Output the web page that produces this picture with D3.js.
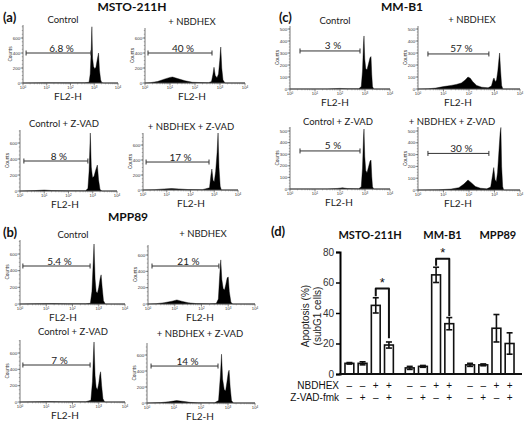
<!DOCTYPE html>
<html><head><meta charset="utf-8">
<script src="https://cdn.jsdelivr.net/npm/d3@7"></script>
<style>body{margin:0;background:#fff}svg{display:block}</style>
</head><body>
<svg id="c" width="526" height="422"></svg>
<script>
// ---------- DATA ----------
// histogram points: [log10(FL2-H), counts]
const mstoCtrl = [[0,0],[1,3],[2,2],[2.6,4],[2.78,10],[2.83,120],[2.87,420],[2.9,750],[2.93,330],[2.97,220],[3.02,190],[3.07,210],[3.12,300],[3.18,400],[3.22,170],[3.27,40],[3.32,5],[3.4,0],[4,0]];
const mstoNbd = [[0,0],[0.2,4],[0.5,20],[0.8,55],[1.0,75],[1.1,80],[1.3,60],[1.6,30],[1.9,10],[2.2,6],[2.55,5],[2.66,20],[2.72,120],[2.76,210],[2.81,100],[2.88,70],[2.94,120],[2.99,300],[3.03,480],[3.07,200],[3.12,40],[3.2,0],[4,0]];
const mstoZ = [[0,0],[0.6,5],[1.0,12],[1.3,6],[2,4],[2.7,4],[2.8,30],[2.85,250],[2.9,725],[2.94,300],[2.99,170],[3.05,180],[3.12,260],[3.19,325],[3.24,140],[3.3,20],[3.38,0],[4,0]];
const mstoNbdZ = [[0,0],[0.5,5],[0.9,15],[1.2,20],[1.5,15],[1.9,6],[2.5,5],[2.8,30],[2.86,200],[2.9,280],[2.95,130],[3.0,110],[3.06,250],[3.12,500],[3.16,760],[3.2,300],[3.25,50],[3.3,0],[4,0]];
const mppCtrl = [[0,0],[0.5,3],[1.2,6],[1.8,4],[2.5,4],[2.68,8],[2.74,150],[2.79,500],[2.82,720],[2.86,300],[2.9,150],[2.95,130],[3.0,200],[3.05,300],[3.09,350],[3.13,200],[3.18,40],[3.25,0],[4,0]];
const mppNbd = [[0,0],[0.3,4],[0.6,15],[0.9,35],[1.08,50],[1.25,35],[1.5,15],[1.8,5],[2.3,3],[2.55,5],[2.63,60],[2.68,350],[2.72,540],[2.76,300],[2.81,190],[2.86,170],[2.91,240],[2.96,320],[3.0,330],[3.04,150],[3.1,20],[3.17,0],[4,0]];
const mppZ = [[0,0],[0.6,3],[1.1,6],[1.6,4],[2.5,4],[2.7,20],[2.76,250],[2.8,600],[2.82,735],[2.86,320],[2.9,180],[2.95,150],[3.0,230],[3.04,330],[3.07,370],[3.11,200],[3.16,40],[3.23,0],[4,0]];
const mppNbdZ = [[0,0],[0.5,5],[0.8,15],[1.1,30],[1.3,22],[1.6,8],[1.9,3],[2.5,3],[2.65,30],[2.72,350],[2.76,610],[2.8,300],[2.86,170],[2.91,150],[2.96,260],[3.01,380],[3.04,410],[3.08,200],[3.13,30],[3.2,0],[4,0]];
const mmCtrl = [[0,0],[1.5,1],[2.0,5],[2.3,2],[2.75,2],[2.85,20],[2.9,150],[2.94,380],[2.96,442],[2.99,250],[3.03,170],[3.08,160],[3.14,210],[3.2,260],[3.24,270],[3.27,120],[3.3,20],[3.35,0],[4,0]];
const mmNbd = [[0,0],[0.4,2],[0.7,8],[1.0,20],[1.3,30],[1.5,38],[1.7,50],[1.85,75],[1.96,100],[2.05,90],[2.15,60],[2.3,30],[2.5,15],[2.75,10],[2.88,25],[2.95,80],[2.98,92],[3.03,60],[3.08,75],[3.13,150],[3.18,260],[3.2,300],[3.24,150],[3.28,30],[3.33,0],[4,0]];
const mmZ = [[0,0],[1.5,1],[1.9,5],[2.1,10],[2.3,4],[2.75,2],[2.85,20],[2.9,180],[2.94,450],[2.96,517],[2.99,280],[3.03,160],[3.08,140],[3.14,190],[3.2,240],[3.24,250],[3.27,110],[3.3,20],[3.35,0],[4,0]];
const mmNbdZ = [[0,0],[0.8,2],[1.3,8],[1.6,20],[1.8,50],[1.96,85],[2.1,60],[2.25,30],[2.45,15],[2.7,10],[2.85,25],[2.92,120],[2.97,190],[3.02,90],[3.07,70],[3.12,150],[3.18,350],[3.22,480],[3.25,530],[3.28,200],[3.32,30],[3.36,0],[4,0]];

const histTitles = ["Control","+ NBDHEX","Control + Z-VAD","+ NBDHEX + Z-VAD"];
// gate [lowLog, highLog, count], label
const gateLabels = ["6.8 %","40 %","8 %","17 %","5.4 %","21 %","7 %","14 %","3 %","57 %","5 %","30 %"];
const gates = [[0.13,2.86,400],[0.12,2.68,400],[0.16,2.8,375],[0.13,2.78,373],[0.11,2.67,456],[0.15,2.65,465],[0.11,2.67,453],[0.15,2.63,462],[0.4,2.8,317],[0.39,2.78,292],[0.4,2.8,328],[0.39,2.78,310]];
const ticksAB = [0,200,400,600];
const ticksC = [0,100,200,300,400,500];
const decades = [0,1,2,3,4];

// bar chart data
const cellLines = ["MSTO-211H","MM-B1","MPP89"];
const conditions = ["c1","c2","c3","c4"];
const nbdhexSigns = ["\u2013","\u2013","+","+"];
const zvadSigns = ["\u2013","+","\u2013","+"];
const mstoMeans = [7,7,45,19];
const mstoErr = [0.5,1,5,2];
const mmMeans = [4,5,65,33];
const mmErr = [1,0.6,5,4];
const mppMeans = [6,6,30,20];
const mppErr = [1,0.6,9,7];
const barTicks = [0,20,40,60,80];
// significance: [group, barA, barB, bracketY, legA, legB]
const sigs = [[0,2,3,56,51,23.5],[1,2,3,75.5,71,38]];

// ---------- LAYOUT ----------
const svg = d3.select("#c");
const FONT = "Lato, 'Open Sans', sans-serif";
const ARIAL = "'Liberation Sans', Arial, sans-serif";

const histLayouts = [
 {d:mstoCtrl, L:23,R:118,B:83,tv:600,ty:38,at:25,tx:63,tt:19,fx:68,ticks:ticksAB},
 {d:mstoNbd, L:145,R:245,B:83,tv:600,ty:38,at:28,tx:192,tt:21,fx:192,ticks:ticksAB},
 {d:mstoZ, L:20,R:117,B:191,tv:600,ty:143,at:130,tx:64,tt:123,fx:65,ticks:ticksAB},
 {d:mstoNbdZ, L:143,R:238,B:190,tv:600,ty:145,at:133,tx:191,tt:126,fx:191,ticks:ticksAB},
 {d:mppCtrl, L:20,R:125,B:304,tv:600,ty:254,at:240,tx:73,tt:234,fx:63,ticks:ticksAB},
 {d:mppNbd, L:148,R:255,B:304,tv:600,ty:255,at:245,tx:203,tt:233,fx:200,ticks:ticksAB},
 {d:mppZ, L:20,R:125,B:402,tv:600,ty:353,at:340,tx:73,tt:331,fx:65,ticks:ticksAB},
 {d:mppNbdZ, L:147,R:255,B:403,tv:600,ty:355,at:343,tx:200,tt:333,fx:200,ticks:ticksAB},
 {d:mmCtrl, L:290,R:390,B:89,tv:500,ty:29,at:26,tx:335,tt:20,fx:335,ticks:ticksC},
 {d:mmNbd, L:418,R:520,B:89,tv:500,ty:29,at:26,tx:472,tt:19,fx:458,ticks:ticksC},
 {d:mmZ, L:290,R:390,B:189,tv:500,ty:131,at:127,tx:338,tt:121,fx:339,ticks:ticksC},
 {d:mmNbdZ, L:418,R:520,B:190,tv:500,ty:131,at:127,tx:452,tt:121,fx:458,ticks:ticksC}
];

histLayouts.forEach((h,i)=>{
  const g = svg.append("g");
  const x = d3.scaleLog().domain([1,1e4]).range([h.L,h.R]);
  const y = d3.scaleLinear().domain([0,h.tv]).range([h.B,h.ty]);
  const area = d3.area().x(p=>x(Math.pow(10,p[0]))).y0(h.B).y1(p=>y(p[1]));
  g.append("path").datum(h.d).attr("d",area).attr("fill","#000").attr("stroke","#000").attr("stroke-width",0.4);
  // y axis
  g.append("line").attr("x1",h.L).attr("x2",h.L).attr("y1",h.B).attr("y2",h.at).attr("stroke","#555").attr("stroke-width",0.8);
  const step = h.ticks[1]-h.ticks[0];
  const minors = d3.range(0, y.invert(h.at), step/4);
  g.selectAll(null).data(minors).join("line").attr("x1",h.L-1.2).attr("x2",h.L).attr("y1",v=>y(v)).attr("y2",v=>y(v)).attr("stroke","#666").attr("stroke-width",0.5);
  g.selectAll(null).data(h.ticks).join("line").attr("x1",h.L-2.5).attr("x2",h.L).attr("y1",v=>y(v)).attr("y2",v=>y(v)).attr("stroke","#555").attr("stroke-width",0.7);
  g.selectAll(null).data(h.ticks).join("text").attr("x",h.L-2.8).attr("y",v=>y(v)+1.6).attr("text-anchor","end")
    .attr("font-family",ARIAL).attr("font-size",4.4).attr("fill","#333").text(v=>v);
  // x axis
  g.append("line").attr("x1",h.L).attr("x2",h.R).attr("y1",h.B).attr("y2",h.B).attr("stroke","#555").attr("stroke-width",0.8);
  const xmin = [];
  [0,1,2,3].forEach(dd=>{for(let k=2;k<10;k++) xmin.push(k*Math.pow(10,dd));});
  g.selectAll(null).data(xmin).join("line").attr("x1",v=>x(v)).attr("x2",v=>x(v)).attr("y1",h.B).attr("y2",h.B+1.3).attr("stroke","#666").attr("stroke-width",0.5);
  g.selectAll(null).data(decades).join("line").attr("x1",v=>x(Math.pow(10,v))).attr("x2",v=>x(Math.pow(10,v))).attr("y1",h.B).attr("y2",h.B+2.5).attr("stroke","#555").attr("stroke-width",0.7);
  const tl = g.selectAll(null).data(decades).join("text").attr("x",v=>x(Math.pow(10,v))).attr("y",h.B+6.4)
    .attr("text-anchor","middle").attr("font-family",ARIAL).attr("font-size",4.2).attr("fill","#333");
  tl.append("tspan").text("10");
  tl.append("tspan").attr("dy",-1.5).attr("font-size",3).text(v=>v);
  // Counts label
  g.append("text").attr("transform",`translate(${h.L-11.5},${(h.B+h.at)/2}) rotate(-90)`).attr("text-anchor","middle")
    .attr("font-family",ARIAL).attr("font-size",4.8).attr("fill","#333").text("Counts");
  // FL2-H
  g.append("text").attr("x",h.fx).attr("y",Math.min(h.B+16.5,420)).attr("text-anchor","middle").attr("font-family",FONT).attr("font-size",10).attr("fill","#222").text("FL2-H");
  // title
  g.append("text").attr("x",h.tx).attr("y",h.tt+3.5).attr("text-anchor","middle").attr("font-family",FONT).attr("font-size",9.5).attr("fill","#222").text(histTitles[i%4]);
  // gate
  const gt = gates[i];
  const gx1 = x(Math.pow(10,gt[0])), gx2 = x(Math.pow(10,gt[1])), gy = y(gt[2]);
  g.append("line").attr("x1",gx1).attr("x2",gx2).attr("y1",gy).attr("y2",gy).attr("stroke","#333").attr("stroke-width",1);
  [gx1,gx2].forEach(px=>g.append("line").attr("x1",px).attr("x2",px).attr("y1",gy-2.5).attr("y2",gy+2.5).attr("stroke","#333").attr("stroke-width",1));
  g.append("text").attr("x",(gx1+gx2)/2+3).attr("y",gy-1.5).attr("text-anchor","middle").attr("font-family",FONT).attr("font-size",10).attr("fill","#222").text(gateLabels[i]);
});

// panel headings
const heads = [["MSTO-211H",132,11],["MPP89",128,221],["MM-B1",402,11]];
heads.forEach(t=>svg.append("text").attr("x",t[1]).attr("y",t[2]).attr("text-anchor","middle").attr("font-family",FONT).attr("font-weight","bold").attr("font-size",12).attr("fill","#111").text(t[0]));
const letters = [["(a)",3,22],["(b)",3,237],["(c)",279,22],["(d)",271,236]];
letters.forEach(t=>svg.append("text").attr("x",t[1]).attr("y",t[2]).attr("font-family",FONT).attr("font-weight","bold").attr("font-size",13).attr("fill","#111").text(t[0]));

// ---------- BAR CHART (d) ----------
const bg = svg.append("g");
const yb = d3.scaleLinear().domain([0,80]).range([374,252]);
const xg = d3.scaleBand().domain(cellLines).range([339,520]);
const xi = d3.scaleBand().domain(conditions).range([-25.5,25.5]).paddingInner(0.33).paddingOuter(0.1);
const groups = [mstoMeans,mmMeans,mppMeans];
const errs = [mstoErr,mmErr,mppErr];
const cx = (gi,bi)=> xg(cellLines[gi]) + xg.bandwidth()/2 + xi(conditions[bi]) + xi.bandwidth()/2;

cellLines.forEach((cl,gi)=>{
  groups[gi].forEach((v,bi)=>{
    const c = cx(gi,bi);
    bg.append("rect").attr("x",c-xi.bandwidth()/2).attr("width",xi.bandwidth()).attr("y",yb(v)).attr("height",yb(0)-yb(v))
      .attr("fill","#fff").attr("stroke","#111").attr("stroke-width",1.6);
    const e = errs[gi][bi];
    bg.append("line").attr("x1",c).attr("x2",c).attr("y1",yb(v-e)).attr("y2",yb(v+e)).attr("stroke","#111").attr("stroke-width",1.6);
    [v-e,v+e].forEach(ev=>bg.append("line").attr("x1",c-3).attr("x2",c+3).attr("y1",yb(ev)).attr("y2",yb(ev)).attr("stroke","#111").attr("stroke-width",1.6));
    bg.append("text").attr("x",c).attr("y",389).attr("text-anchor","middle").attr("font-family",ARIAL).attr("font-size",10).attr("fill","#111").text(nbdhexSigns[bi]);
    bg.append("text").attr("x",c).attr("y",401).attr("text-anchor","middle").attr("font-family",ARIAL).attr("font-size",10).attr("fill","#111").text(zvadSigns[bi]);
  });
  bg.append("text").attr("x",xg(cl)+xg.bandwidth()/2 + (gi==0?1:(gi==1?13:8))).attr("y",239).attr("text-anchor","middle")
    .attr("font-family",FONT).attr("font-weight","bold").attr("font-size",11).attr("fill","#111").text(cl);
});
// significance brackets
sigs.forEach(s=>{
  const a = cx(s[0],s[1]), b = cx(s[0],s[2]);
  bg.append("path").attr("d",`M${a},${yb(s[4])}V${yb(s[3])}H${b}V${yb(s[5])}`).attr("fill","none").attr("stroke","#111").attr("stroke-width",2).attr("stroke-linejoin","round");
  bg.append("text").attr("x",(a+b)/2).attr("y",yb(s[3])-2).attr("text-anchor","middle").attr("font-family",ARIAL).attr("font-size",13).attr("fill","#111").text("*");
});
// axes
bg.append("g").attr("transform","translate(340,0)").call(d3.axisLeft(yb).tickValues(barTicks).tickSize(4).tickPadding(2))
  .call(g=>{g.select(".domain").attr("stroke-width",2);g.selectAll(".tick line").attr("stroke-width",1.5);
            g.selectAll("text").attr("font-family",ARIAL).attr("font-size",10).attr("fill","#333");});
bg.append("line").attr("x1",339).attr("x2",522).attr("y1",yb(0)).attr("y2",yb(0)).attr("stroke","#111").attr("stroke-width",2);
bg.append("text").attr("transform","translate(309,316) rotate(-90)").attr("text-anchor","middle").attr("font-family",ARIAL).attr("font-size",10).attr("fill","#222").text("Apoptosis (%)");
bg.append("text").attr("transform","translate(321,316) rotate(-90)").attr("text-anchor","middle").attr("font-family",ARIAL).attr("font-size",10).attr("fill","#222").text("(subG1 cells)");
bg.append("text").attr("x",339).attr("y",389).attr("text-anchor","end").attr("font-family",ARIAL).attr("font-size",10).attr("fill","#111").text("NBDHEX");
bg.append("text").attr("x",339).attr("y",401).attr("text-anchor","end").attr("font-family",ARIAL).attr("font-size",10).attr("fill","#111").text("Z-VAD-fmk");
</script>
</body></html>
